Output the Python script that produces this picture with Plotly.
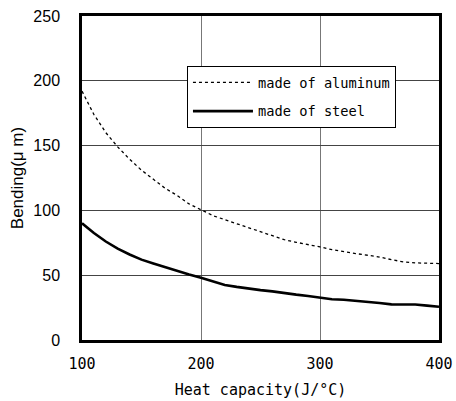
import plotly.graph_objects as go

heat_capacity = [100, 110, 120, 130, 140, 150, 160, 170, 180, 190, 200,
                 210, 220, 230, 240, 250, 260, 270, 280, 290, 300,
                 310, 320, 330, 340, 350, 360, 370, 380, 390, 400]
aluminum = [192, 174, 160, 149, 139.5, 131, 124, 117, 111.5, 105, 100.5,
            96, 92.8, 89.7, 86.7, 83.3, 80.5, 77.4, 75.4, 73.8, 71.8,
            69.7, 68, 66.7, 65.4, 64, 62, 60.3, 59.5, 59.2, 59]
steel = [90, 82.5, 76, 70.5, 66, 62, 59, 56, 53, 50.5, 48,
         45, 42.5, 41, 39.5, 38.5, 37.5, 36, 35, 34, 32.6,
         31.5, 31, 30.3, 29.5, 28.5, 27.5, 27.4, 27.4, 26.5, 25.6]
x_ticks = [100, 200, 300, 400]
y_ticks = [0, 50, 100, 150, 200, 250]

mono = "DejaVu Sans Mono"

fig = go.Figure()
fig.add_trace(go.Scatter(x=heat_capacity, y=aluminum, mode="lines",
                         name="made of aluminum", legendgroup="a",
                         line=dict(color="black", width=1.3, dash="3px,3px")))
fig.add_trace(go.Scatter(x=heat_capacity, y=steel, mode="lines",
                         name="made of steel", legendgroup="b",
                         line=dict(color="black", width=2.6)))

fig.update_layout(
    width=456, height=401,
    margin=dict(l=82, r=17, t=16, b=61, autoexpand=False),
    paper_bgcolor="white", plot_bgcolor="white",
    font=dict(family="Liberation Sans", size=14, color="black"),
    legend=dict(x=0.294, y=0.846, xanchor="left", yanchor="top",
                bordercolor="black", borderwidth=1, bgcolor="white",
                font=dict(family=mono, size=13.7),
                itemwidth=60, tracegroupgap=8),
    xaxis=dict(range=[100, 400], tickvals=x_ticks, automargin=False,
               ticklabeloverflow="allow",
               showgrid=True, gridcolor="#777777", gridwidth=1,
               showline=True, linecolor="black", linewidth=2.5, mirror=True,
               ticks="", ticklabelstandoff=8, zeroline=False,
               tickfont=dict(family=mono, size=15),
               title=dict(text="Heat capacity(J/°C)", standoff=13,
                          font=dict(family=mono, size=15))),
    yaxis=dict(range=[0, 250], tickvals=y_ticks, automargin=False,
               ticklabeloverflow="allow",
               showgrid=True, gridcolor="#444444", gridwidth=1,
               showline=True, linecolor="black", linewidth=2.5, mirror=True,
               ticks="", ticklabelstandoff=16, zeroline=False,
               tickfont=dict(family="Liberation Sans", size=16),
               title=dict(text="Bending(μ m)", standoff=6,
                          font=dict(family="Liberation Sans", size=17))),
)

# remove the browser's default 8px body margin so the figure fills the window
fig.write_html("out.html",
               config={"displayModeBar": False},
               post_script="document.body.style.margin='0';"
                           "document.body.style.overflow='hidden';")
